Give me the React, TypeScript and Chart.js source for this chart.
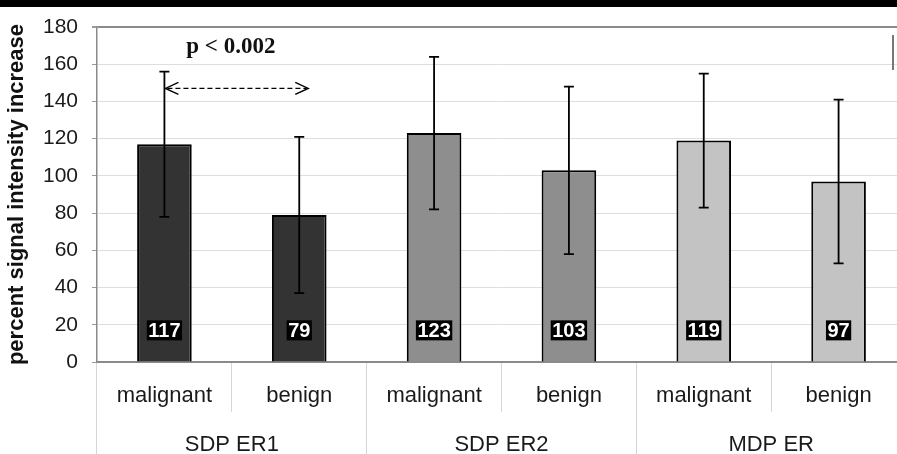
import React, { useEffect, useRef } from 'react';
import { Chart, registerables } from 'chart.js';

Chart.register(...registerables);

const categories = ['malignant', 'benign', 'malignant', 'benign', 'malignant', 'benign'];
const groups = ['SDP ER1', 'SDP ER2', 'MDP ER'];
const means = [117, 79, 123, 103, 119, 97];
const errLow = [78, 37, 82, 58, 83, 53];
const errHigh = [156, 121, 164, 148, 155, 141];
const barColors = ['#333333', '#333333', '#8e8e8e', '#8e8e8e', '#c3c3c3', '#c3c3c3'];
const yMin = 0;
const yMax = 180;
const yStep = 20;
const yTitle = 'percent signal intensity increase';
const pText = 'p < 0.002';
const arrowFrom = 0;
const arrowTo = 1;
const arrowValue = 147;
const pTextValue = 169;
const valueLabelAt = 17;

const SANS = '"Liberation Sans", Arial, sans-serif';
const SERIF = '"Liberation Serif", "Times New Roman", serif';

const overlayPlugin = {
  id: 'overlay',
  afterDatasetsDraw(chart: any) {
    const ctx = chart.ctx;
    const xs = chart.scales.x;
    const ys = chart.scales.y;
    ctx.save();
    // error bars
    ctx.strokeStyle = '#000';
    ctx.lineWidth = 1.8;
    means.forEach((_, i) => {
      const x = xs.getPixelForValue(i);
      const yl = ys.getPixelForValue(errLow[i]);
      const yh = ys.getPixelForValue(errHigh[i]);
      ctx.beginPath();
      ctx.moveTo(x, yl);
      ctx.lineTo(x, yh);
      ctx.moveTo(x - 5, yh);
      ctx.lineTo(x + 5, yh);
      ctx.moveTo(x - 5, yl);
      ctx.lineTo(x + 5, yl);
      ctx.stroke();
    });
    // value labels
    ctx.font = 'bold 20px ' + SANS;
    ctx.textAlign = 'center';
    ctx.textBaseline = 'middle';
    means.forEach((v, i) => {
      const x = xs.getPixelForValue(i);
      const y = ys.getPixelForValue(valueLabelAt);
      const t = String(v);
      const w = ctx.measureText(t).width + 3;
      ctx.fillStyle = '#000';
      ctx.fillRect(x - w / 2, y - 10, w, 20);
      ctx.fillStyle = '#fff';
      ctx.fillText(t, x, y + 1);
    });
    // significance arrow
    const x0 = xs.getPixelForValue(arrowFrom) + 1;
    const x1 = xs.getPixelForValue(arrowTo) + 9;
    const ya = ys.getPixelForValue(arrowValue);
    ctx.strokeStyle = '#000';
    ctx.lineWidth = 1.4;
    ctx.setLineDash([5, 3]);
    ctx.beginPath();
    ctx.moveTo(x0 + 2, ya);
    ctx.lineTo(x1 - 2, ya);
    ctx.stroke();
    ctx.setLineDash([]);
    ctx.beginPath();
    ctx.moveTo(x0 + 13, ya - 6);
    ctx.lineTo(x0, ya);
    ctx.lineTo(x0 + 13, ya + 6);
    ctx.moveTo(x1 - 13, ya - 6);
    ctx.lineTo(x1, ya);
    ctx.lineTo(x1 - 13, ya + 6);
    ctx.stroke();
    // p text
    ctx.fillStyle = '#111';
    ctx.font = 'bold 23px ' + SERIF;
    ctx.textAlign = 'center';
    ctx.textBaseline = 'middle';
    ctx.fillText(pText, (x0 + x1) / 2 - 6, ys.getPixelForValue(pTextValue));
    ctx.restore();
  },
};

export default function App() {
  const ref = useRef<HTMLCanvasElement | null>(null);
  useEffect(() => {
    document.body.style.margin = '0';
    document.body.style.overflow = 'hidden';
    const chart = new Chart(ref.current as HTMLCanvasElement, {
      type: 'bar',
      data: {
        labels: categories,
        datasets: [
          {
            data: means,
            backgroundColor: barColors,
            borderColor: '#000',
            borderWidth: 2,
            barPercentage: 0.405,
            categoryPercentage: 1,
          },
        ],
      },
      options: {
        responsive: false,
        maintainAspectRatio: false,
        animation: false,
        devicePixelRatio: 1,
        layout: { padding: { top: 20, left: 0, right: 0, bottom: 0 } },
        plugins: { legend: { display: false }, tooltip: { enabled: false } },
        scales: {
          x: {
            type: 'category',
            position: 'bottom',
            offset: true,
            grid: {
              offset: true,
              drawOnChartArea: false,
              tickLength: 50,
              color: '#d6d6d6',
              lineWidth: 1,
            },
            border: { display: true, color: '#8a8a8a', width: 2 },
            ticks: {
              padding: -29,
              color: '#1a1a1a',
              font: { family: SANS, size: 22 },
              maxRotation: 0,
              autoSkip: false,
            },
            afterFit: (s: any) => {
              s.height = 50;
              s.paddingLeft = 0;
              s.paddingRight = 0;
            },
          },
          x2: {
            type: 'category',
            labels: groups,
            position: 'bottom',
            offset: true,
            grid: {
              offset: true,
              drawOnChartArea: false,
              tickLength: 42,
              color: '#d6d6d6',
              lineWidth: 1,
            },
            border: { display: false },
            ticks: {
              padding: -22,
              color: '#1a1a1a',
              font: { family: SANS, size: 22 },
              maxRotation: 0,
              autoSkip: false,
            },
            afterFit: (s: any) => {
              s.height = 42;
              s.paddingLeft = 0;
              s.paddingRight = 0;
            },
          },
          y: {
            min: yMin,
            max: yMax,
            ticks: {
              stepSize: yStep,
              padding: 14,
              color: '#1a1a1a',
              font: { family: SANS, size: 21 },
            },
            grid: {
              color: (c: any) => (c.tick && c.tick.value === yMax ? '#8a8a8a' : '#dedede'),
              lineWidth: (c: any) => (c.tick && c.tick.value === yMax ? 2 : 1),
              tickLength: 5,
              tickColor: '#9a9a9a',
            },
            border: { display: true, color: '#8a8a8a', width: 1.5 },
            title: {
              display: true,
              text: yTitle,
              color: '#111',
              font: { family: SANS, size: 22, weight: 'bold' },
              padding: { top: 4, bottom: 0 },
            },
            afterFit: (s: any) => {
              s.width = 97;
              s.paddingTop = 0;
              s.paddingBottom = 0;
            },
          },
        },
      },
      plugins: [overlayPlugin],
    } as any);
    return () => chart.destroy();
  }, []);
  return (
    <div style={{ position: 'relative', width: 897, height: 454, overflow: 'hidden', background: '#fff' }}>
      <div style={{ height: 7, background: '#000' }} />
      <canvas ref={ref} width={906} height={447} style={{ display: 'block' }} />
      <div style={{ position: 'absolute', left: 892, top: 35, width: 2, height: 35, background: '#777' }} />
    </div>
  );
}
